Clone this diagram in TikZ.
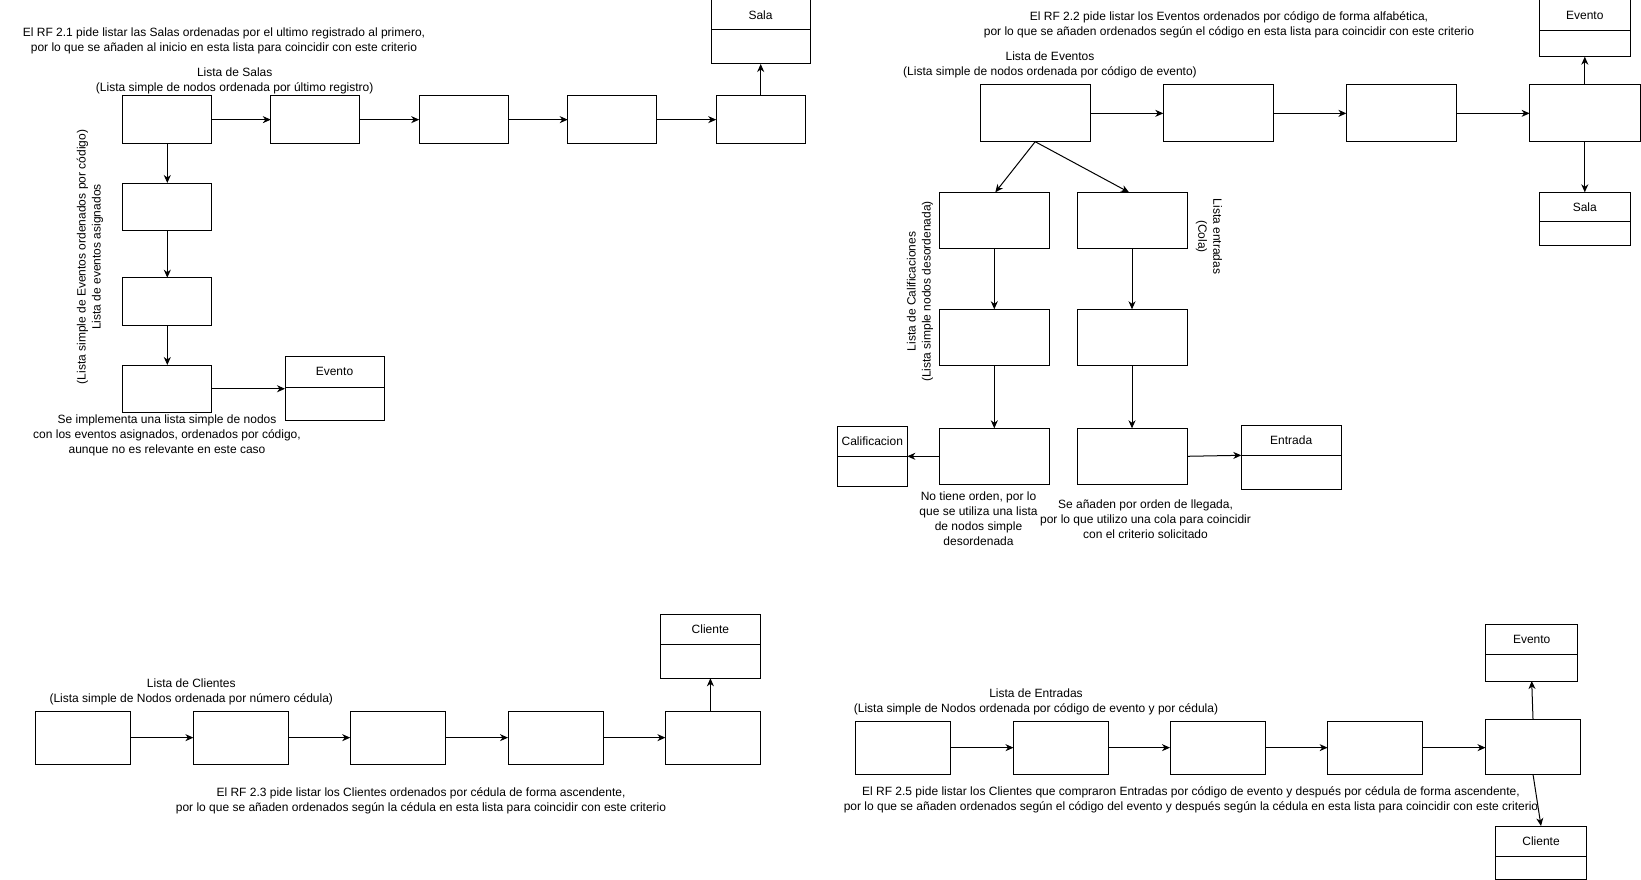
\documentclass[tikz,border=0pt]{standalone}
\usepackage{fontspec}
\setmainfont{Liberation Sans}
\usetikzlibrary{arrows.meta}
\tikzset{
  box/.style={draw, line width=1pt, inner sep=0pt, outer sep=0pt, anchor=north west, fill=white},
  hdr/.style={box, font=\fontsize{12}{15}\selectfont},
  txt/.style={align=center, inner sep=0pt, font=\fontsize{12}{15}\selectfont},
  arr/.style={-{Stealth[length=8pt,width=7pt,inset=2.5pt]}, line width=1pt},
}
% \mybox{name}{x}{y}{w}{h}
\newcommand\mybox[5]{\node[box, minimum width=#4pt, minimum height=#5pt] (#1) at (#2,#3) {};}
% \myclass{name}{x}{y}{w}{header h}{body h}{title}
\newcommand\myclass[7]{%
  \node[hdr, minimum width=#4pt, minimum height=#5pt] (#1H) at (#2,#3) {#7};
  \node[box, minimum width=#4pt, minimum height=#6pt] (#1) at (#1H.south west) {};}
\begin{document}
\begin{tikzpicture}[x=1pt,y=-1pt]
\useasboundingbox (0,0) rectangle (1641,880);
\fill[white] (0,0) rectangle (1641,880);

% ---------------- Section 1 : Salas ----------------
\node[txt] (t1) at (224,40.8) {El RF 2.1 pide listar las Salas ordenadas por el ultimo registrado al primero,\\por lo que se añaden al inicio en esta lista para coincidir con este criterio};
\node[txt] (t1b) at (234.7,80.5) {Lista de Salas\\(Lista simple de nodos ordenada por último registro)};
\mybox{a1}{122.8}{96}{89}{47.3}
\mybox{a2}{270.8}{96}{89}{47.3}
\mybox{a3}{419.2}{96}{89}{47.3}
\mybox{a4}{567.7}{96}{89}{47.3}
\mybox{a5}{716.2}{96}{89}{47.3}
\myclass{sala1}{711}{0}{99}{30}{34}{Sala}
\draw[arr] (a1) -- (a2);
\draw[arr] (a2) -- (a3);
\draw[arr] (a3) -- (a4);
\draw[arr] (a4) -- (a5);
\draw[arr] (a5.north) -- (a5.north |- sala1.south);

\mybox{v1}{122.8}{183}{89}{47.5}
\mybox{v2}{122.8}{277.7}{89}{47.5}
\mybox{v3}{122.8}{365}{89}{47.5}
\draw[arr] (a1) -- (v1);
\draw[arr] (v1) -- (v2);
\draw[arr] (v2) -- (v3);
\myclass{ev1}{285}{356.7}{99}{30.3}{33.7}{Evento}
\draw[arr] (v3.east) -- (v3.east -| ev1.west);
\node[txt, rotate=90] (t1c) at (90,257) {(Lista simple de Eventos ordenados por código)\\Lista de eventos asignados};
\node[txt] (t1d) at (167,435.7) {Se implementa una lista simple de nodos\\con los eventos asignados, ordenados por código,\\aunque no es relevante en este caso};

% ---------------- Section 2 : Eventos ----------------
\node[txt] (t2) at (1229,24.5) {El RF 2.2 pide listar los Eventos ordenados por código de forma alfabética,\\por lo que se añaden ordenados según el código en esta lista para coincidir con este criterio};
\node[txt] (t2b) at (1050,65.2) {Lista de Eventos\\(Lista simple de nodos ordenada por código de evento)};
\mybox{b1}{980}{85}{110.4}{56.7}
\mybox{b2}{1163.3}{85}{110.4}{56.7}
\mybox{b3}{1346.4}{85}{110.4}{56.7}
\mybox{b4}{1529.6}{85}{110.4}{56.7}
\draw[arr] (b1) -- (b2);
\draw[arr] (b2) -- (b3);
\draw[arr] (b3) -- (b4);
\myclass{ev2}{1539}{0}{91.6}{30.3}{26.4}{Evento}
\myclass{sala2}{1539}{192.3}{91.6}{29.4}{23.3}{Sala}
\draw[arr] (b4.north) -- (b4.north |- ev2.south);
\draw[arr] (b4.south) -- (b4.south |- sala2H.north);

\mybox{c1}{939.3}{192.3}{110}{56}
\mybox{c2}{939.3}{309.3}{110}{56}
\mybox{c3}{939.3}{428.3}{110}{56}
\mybox{e1}{1077}{192.3}{110}{56}
\mybox{e2}{1077}{309.3}{110}{56}
\mybox{e3}{1077}{428.3}{110}{56}
\draw[arr] (b1.south) -- ([xshift=1pt]c1.north);
\draw[arr] (b1.south) -- ([xshift=-3pt]e1.north);
\draw[arr] (c1) -- (c2);
\draw[arr] (c2) -- (c3);
\draw[arr] (e1) -- (e2);
\draw[arr] (e2) -- (e3);
\myclass{cal}{837.3}{426.7}{70}{30}{29.3}{Calificacion}
\myclass{ent}{1241.3}{425.7}{99.7}{29.6}{34}{Entrada}
\draw[arr] (c3.west) -- (c3.west -| cal.east);
\draw[arr] (e3.east) -- ([yshift=1pt]e3.east -| ent.west);
\node[txt, rotate=90] (t2c) at (920,291.5) {Lista de Calificaciones\\(Lista simple nodos desordenada)};
\node[txt, rotate=-90] (t2d) at (1209,236.5) {Lista entradas\\(Cola)};
\node[txt] (t2e) at (978.5,519) {No tiene orden, por lo\\que se utiliza una lista\\de nodos simple\\desordenada};
\node[txt] (t2f) at (1145.5,519.2) {Se añaden por orden de llegada,\\por lo que utilizo una cola para coincidir\\con el criterio solicitado};

% ---------------- Section 3 : Clientes ----------------
\node[txt] (t3) at (191.3,691.5) {Lista de Clientes\\(Lista simple de Nodos ordenada por número cédula)};
\mybox{d1}{35.5}{711}{95}{53.3}
\mybox{d2}{193.4}{711}{95}{53.3}
\mybox{d3}{350.2}{711}{95}{53.3}
\mybox{d4}{508}{711}{95}{53.3}
\mybox{d5}{665.4}{711}{95}{53.3}
\draw[arr] (d1) -- (d2);
\draw[arr] (d2) -- (d3);
\draw[arr] (d3) -- (d4);
\draw[arr] (d4) -- (d5);
\myclass{cli3}{660.7}{614.3}{99.3}{30}{34}{Cliente}
\draw[arr] ([xshift=-2.5pt]d5.north) -- ([xshift=-2.5pt]d5.north |- cli3.south);
\node[txt] (t3b) at (421,800.8) {El RF 2.3 pide listar los Clientes ordenados por cédula de forma ascendente,\\por lo que se añaden ordenados según la cédula en esta lista para coincidir con este criterio};

% ---------------- Section 4 : Entradas ----------------
\node[txt] (t4) at (1036,701.5) {Lista de Entradas\\(Lista simple de Nodos ordenada por código de evento y por cédula)};
\mybox{q1}{855.5}{721}{95}{53.3}
\mybox{q2}{1013.5}{721}{95}{53.3}
\mybox{q3}{1170}{721}{95}{53.3}
\mybox{q4}{1327.6}{721}{95}{53.3}
\mybox{q5}{1485.5}{719}{95}{55.3}
\draw[arr] (q1.east) -- (q1.east -| q2.west);
\draw[arr] (q2.east) -- (q2.east -| q3.west);
\draw[arr] (q3.east) -- (q3.east -| q4.west);
\draw[arr] (q4.east) -- (q4.east -| q5.west);
\myclass{ev4}{1485.7}{624.3}{92}{29.7}{27}{Evento}
\myclass{cli4}{1495.3}{826}{91.4}{30}{23.3}{Cliente}
\draw[arr] (q5.north) -- (ev4.south);
\draw[arr] (q5.south) -- (cli4H.north);
\node[txt] (t4b) at (1191,800.3) {El RF 2.5 pide listar los Clientes que compraron Entradas por código de evento y después por cédula de forma ascendente,\\por lo que se añaden ordenados según el código del evento y después según la cédula en esta lista para coincidir con este criterio};
\end{tikzpicture}
\end{document}
